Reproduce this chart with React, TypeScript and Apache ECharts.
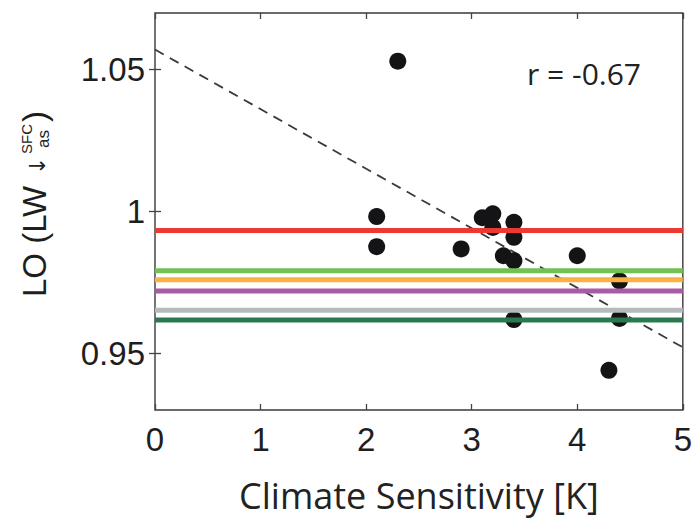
import React, { useEffect, useRef } from "react";
import * as echarts from "echarts";

// ---- data ----
const xTickValues = [0, 1, 2, 3, 4, 5];
const yTickValues = [0.95, 1, 1.05];
const sensitivity = [2.3, 2.1, 2.1, 2.9, 3.1, 3.2, 3.2, 3.4, 3.4, 3.3, 3.4, 4.0, 4.4, 3.4, 4.4, 4.3];
const loValues = [1.053, 0.9982, 0.9876, 0.9868, 0.9978, 0.9992, 0.9944, 0.9962, 0.9909, 0.9844, 0.9826, 0.9844, 0.9755, 0.9619, 0.9623, 0.944];
const refLevels = [0.9933, 0.9791, 0.9759, 0.972, 0.9652, 0.9617];
const fitX = [0, 5];
const fitY = [1.0571, 0.9521];
const annotation = "r = -0.67";

// ---- styles ----
const refColors = ["#ec3a33", "#72c155", "#fbb040", "#aa5ba8", "#b6babb", "#2a7a4e"];

export default function App() {
  const ref = useRef<HTMLDivElement>(null);
  useEffect(() => {
    const chart = echarts.init(ref.current!, null, { renderer: "svg" });
    const tickStyle = { show: true, inside: true, length: 6, lineStyle: { color: "#444", width: 1.3 } };
    const labelFont = { fontFamily: "Liberation Sans", fontSize: 33, color: "#1e1e1e" };
    const series: any[] = [];
    series.push({
      type: "line",
      data: fitX.map((x, i) => [x, fitY[i]]),
      symbol: "none",
      lineStyle: { color: "#3a3a3a", width: 1.8, type: [10, 7] },
      z: 1,
      silent: true,
    });
    series.push({
      type: "scatter",
      data: sensitivity.map((x, i) => [x, loValues[i]]),
      symbolSize: 17,
      itemStyle: { color: "#141416", opacity: 1 },
      z: 2,
    });
    refLevels.forEach((v, i) => {
      series.push({
        type: "line",
        data: [[0, v], [5, v]],
        symbol: "none",
        lineStyle: { color: refColors[i], width: 5 },
        z: 3,
        silent: true,
      });
    });
    chart.setOption({
      animation: false,
      backgroundColor: "#fff",
      grid: { left: 155, right: 12, top: 13, bottom: 111, show: true, borderColor: "#3a3a3a", borderWidth: 1.4, backgroundColor: "transparent" },
      xAxis: [
        {
          type: "value", min: 0, max: 5, interval: 1, position: "bottom",
          axisLine: { show: false }, splitLine: { show: false },
          axisTick: tickStyle,
          axisLabel: { ...labelFont, margin: 13, customValues: xTickValues },
          name: "Climate Sensitivity [K]", nameLocation: "middle", nameGap: 67,
          nameTextStyle: { fontFamily: "Open Sans", fontSize: 36, color: "#222" },
        },
        {
          type: "value", min: 0, max: 5, interval: 1, position: "top",
          axisLine: { show: false }, splitLine: { show: false },
          axisTick: tickStyle, axisLabel: { show: false },
        },
      ],
      yAxis: [
        {
          type: "value", min: 0.93, max: 1.07, interval: 0.01, position: "left",
          axisLine: { show: false }, splitLine: { show: false },
          axisTick: { ...tickStyle, customValues: yTickValues },
          axisLabel: { ...labelFont, margin: 10, customValues: yTickValues, formatter: (v: number) => String(+v.toFixed(2)) },
        },
        {
          type: "value", min: 0.93, max: 1.07, interval: 0.01, position: "right",
          axisLine: { show: false }, splitLine: { show: false },
          axisTick: { ...tickStyle, customValues: yTickValues }, axisLabel: { show: false },
        },
      ],
      graphic: [
        {
          type: "text", left: 527, top: 58,
          style: { text: annotation, font: '30px "Open Sans"', fill: "#222" },
        },
        {
          type: "group", x: 34, y: 297, rotation: Math.PI / 2,
          children: [
            { type: "text", x: 0, y: 0, style: { text: "LO (LW", font: '33px "Liberation Sans"', fill: "#1e1e1e", verticalAlign: "middle", textAlign: "left" } },
            { type: "text", x: 122, y: 3, style: { text: "↓", font: '22px "DejaVu Sans"', fill: "#222", verticalAlign: "middle", textAlign: "left" } },
            { type: "text", x: 158, y: -8, style: { text: "SFC", font: '15px "Liberation Sans"', fill: "#222", verticalAlign: "middle", textAlign: "center" } },
            { type: "text", x: 158, y: 9, style: { text: "as", font: '17px "Liberation Sans"', fill: "#222", verticalAlign: "middle", textAlign: "center" } },
            { type: "text", x: 175, y: 0, style: { text: ")", font: '33px "Liberation Sans"', fill: "#1e1e1e", verticalAlign: "middle", textAlign: "left" } },
          ],
        },
      ],
      series,
    });
    return () => chart.dispose();
  }, []);
  return <div ref={ref} style={{ position: "fixed", left: 0, top: 0, width: 695, height: 521, background: "#fff" }} />;
}
